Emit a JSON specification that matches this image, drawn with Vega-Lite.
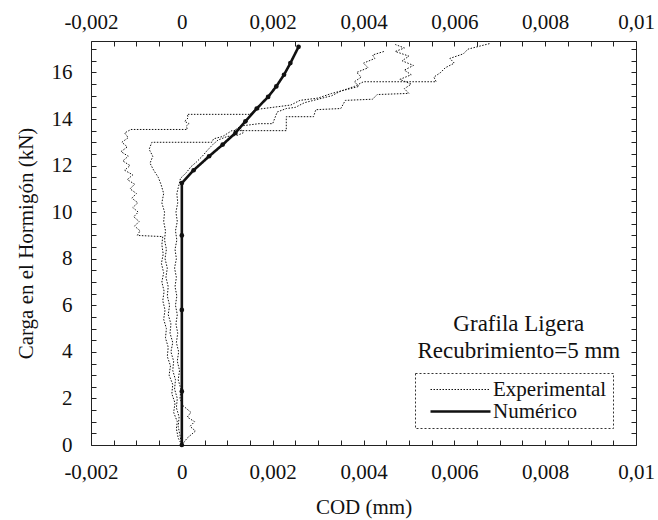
{
  "$schema": "https://vega.github.io/schema/vega-lite/v6.json",
  "width": 545,
  "height": 404,
  "autosize": "none",
  "padding": {"left": 91, "top": 41, "right": 22, "bottom": 75},
  "background": "white",
  "config": {
    "view": {"stroke": "#222", "strokeWidth": 1},
    "font": "Liberation Serif",
    "axis": {
      "domain": false, "grid": false,
      "labelFont": "Liberation Serif", "labelFontSize": 21, "labelColor": "#111",
      "titleFont": "Liberation Serif", "titleFontSize": 21, "titleFontWeight": "normal", "titleColor": "#111",
      "ticks": true, "tickColor": "#222", "tickWidth": 1, "tickSize": -5,
      "labelOverlap": false, "labelFlush": false
    },
    "legend": {
      "strokeColor": "#333", "padding": 6,
      "labelFont": "Liberation Serif", "labelFontSize": 21, "labelColor": "#111",
      "symbolType": "M-3,0H3", "symbolSize": 400, "symbolStrokeColor": "#111", "rowPadding": 0,
      "symbolOffset": 28, "labelOffset": 21
    }
  },
  "datasets": {
    "curves": [
      {"run": "A", "series": "Experimental", "x": 0, "y": 0},
      {"run": "A", "series": "Experimental", "x": -0.00008, "y": 0.3},
      {"run": "A", "series": "Experimental", "x": -0.00012, "y": 0.7},
      {"run": "A", "series": "Experimental", "x": -0.0001, "y": 1.0},
      {"run": "A", "series": "Experimental", "x": -0.00018, "y": 1.4},
      {"run": "A", "series": "Experimental", "x": -0.00015, "y": 1.8},
      {"run": "A", "series": "Experimental", "x": -0.00022, "y": 2.2},
      {"run": "A", "series": "Experimental", "x": -0.0002, "y": 2.6},
      {"run": "A", "series": "Experimental", "x": -0.00028, "y": 3.0},
      {"run": "A", "series": "Experimental", "x": -0.00025, "y": 3.4},
      {"run": "A", "series": "Experimental", "x": -0.00032, "y": 3.8},
      {"run": "A", "series": "Experimental", "x": -0.0003, "y": 4.2},
      {"run": "A", "series": "Experimental", "x": -0.00036, "y": 4.6},
      {"run": "A", "series": "Experimental", "x": -0.00034, "y": 5.0},
      {"run": "A", "series": "Experimental", "x": -0.0004, "y": 5.4},
      {"run": "A", "series": "Experimental", "x": -0.00037, "y": 5.8},
      {"run": "A", "series": "Experimental", "x": -0.00042, "y": 6.2},
      {"run": "A", "series": "Experimental", "x": -0.00039, "y": 6.6},
      {"run": "A", "series": "Experimental", "x": -0.00044, "y": 7.0},
      {"run": "A", "series": "Experimental", "x": -0.0004, "y": 7.4},
      {"run": "A", "series": "Experimental", "x": -0.00045, "y": 7.8},
      {"run": "A", "series": "Experimental", "x": -0.00041, "y": 8.2},
      {"run": "A", "series": "Experimental", "x": -0.00044, "y": 8.6},
      {"run": "A", "series": "Experimental", "x": -0.00042, "y": 8.95},
      {"run": "A", "series": "Experimental", "x": -0.00098, "y": 9.0},
      {"run": "A", "series": "Experimental", "x": -0.00092, "y": 9.2},
      {"run": "A", "series": "Experimental", "x": -0.00104, "y": 9.4},
      {"run": "A", "series": "Experimental", "x": -0.00094, "y": 9.6},
      {"run": "A", "series": "Experimental", "x": -0.00106, "y": 9.8},
      {"run": "A", "series": "Experimental", "x": -0.00096, "y": 10.0},
      {"run": "A", "series": "Experimental", "x": -0.00108, "y": 10.2},
      {"run": "A", "series": "Experimental", "x": -0.00097, "y": 10.4},
      {"run": "A", "series": "Experimental", "x": -0.0011, "y": 10.6},
      {"run": "A", "series": "Experimental", "x": -0.001, "y": 10.8},
      {"run": "A", "series": "Experimental", "x": -0.00114, "y": 11.0},
      {"run": "A", "series": "Experimental", "x": -0.00104, "y": 11.2},
      {"run": "A", "series": "Experimental", "x": -0.0012, "y": 11.4},
      {"run": "A", "series": "Experimental", "x": -0.00108, "y": 11.6},
      {"run": "A", "series": "Experimental", "x": -0.00126, "y": 11.8},
      {"run": "A", "series": "Experimental", "x": -0.00114, "y": 12.0},
      {"run": "A", "series": "Experimental", "x": -0.0013, "y": 12.2},
      {"run": "A", "series": "Experimental", "x": -0.00118, "y": 12.4},
      {"run": "A", "series": "Experimental", "x": -0.00134, "y": 12.6},
      {"run": "A", "series": "Experimental", "x": -0.0012, "y": 12.8},
      {"run": "A", "series": "Experimental", "x": -0.00132, "y": 13.0},
      {"run": "A", "series": "Experimental", "x": -0.00118, "y": 13.2},
      {"run": "A", "series": "Experimental", "x": -0.00126, "y": 13.4},
      {"run": "A", "series": "Experimental", "x": -0.00112, "y": 13.55},
      {"run": "A", "series": "Experimental", "x": 0.00012, "y": 13.55},
      {"run": "A", "series": "Experimental", "x": 0.0001, "y": 13.7},
      {"run": "A", "series": "Experimental", "x": 0.00016, "y": 13.8},
      {"run": "A", "series": "Experimental", "x": 0.00006, "y": 13.9},
      {"run": "A", "series": "Experimental", "x": 0.00014, "y": 14.05},
      {"run": "A", "series": "Experimental", "x": 0.00012, "y": 14.2},
      {"run": "A", "series": "Experimental", "x": 0.0015, "y": 14.2},
      {"run": "A", "series": "Experimental", "x": 0.0016, "y": 14.4},
      {"run": "A", "series": "Experimental", "x": 0.002, "y": 14.5},
      {"run": "A", "series": "Experimental", "x": 0.0024, "y": 14.6},
      {"run": "A", "series": "Experimental", "x": 0.0026, "y": 14.8},
      {"run": "A", "series": "Experimental", "x": 0.003, "y": 14.9},
      {"run": "A", "series": "Experimental", "x": 0.0033, "y": 15.1},
      {"run": "A", "series": "Experimental", "x": 0.0036, "y": 15.25},
      {"run": "A", "series": "Experimental", "x": 0.0039, "y": 15.4},
      {"run": "A", "series": "Experimental", "x": 0.0038, "y": 15.6},
      {"run": "A", "series": "Experimental", "x": 0.00395, "y": 15.8},
      {"run": "A", "series": "Experimental", "x": 0.00385, "y": 16.0},
      {"run": "A", "series": "Experimental", "x": 0.0041, "y": 16.2},
      {"run": "A", "series": "Experimental", "x": 0.004, "y": 16.4},
      {"run": "A", "series": "Experimental", "x": 0.00425, "y": 16.6},
      {"run": "A", "series": "Experimental", "x": 0.0042, "y": 16.75},
      {"run": "A", "series": "Experimental", "x": 0.00445, "y": 16.9},

      {"run": "B", "series": "Experimental", "x": 0, "y": 0},
      {"run": "B", "series": "Experimental", "x": -0.00004, "y": 0.4},
      {"run": "B", "series": "Experimental", "x": -0.00008, "y": 0.8},
      {"run": "B", "series": "Experimental", "x": -0.00006, "y": 1.2},
      {"run": "B", "series": "Experimental", "x": -0.00012, "y": 1.6},
      {"run": "B", "series": "Experimental", "x": -0.0001, "y": 2.0},
      {"run": "B", "series": "Experimental", "x": -0.00016, "y": 2.4},
      {"run": "B", "series": "Experimental", "x": -0.00014, "y": 2.8},
      {"run": "B", "series": "Experimental", "x": -0.0002, "y": 3.2},
      {"run": "B", "series": "Experimental", "x": -0.00018, "y": 3.6},
      {"run": "B", "series": "Experimental", "x": -0.00024, "y": 4.0},
      {"run": "B", "series": "Experimental", "x": -0.0002, "y": 4.4},
      {"run": "B", "series": "Experimental", "x": -0.00026, "y": 4.8},
      {"run": "B", "series": "Experimental", "x": -0.00024, "y": 5.2},
      {"run": "B", "series": "Experimental", "x": -0.0003, "y": 5.6},
      {"run": "B", "series": "Experimental", "x": -0.00027, "y": 6.0},
      {"run": "B", "series": "Experimental", "x": -0.00032, "y": 6.4},
      {"run": "B", "series": "Experimental", "x": -0.0003, "y": 6.8},
      {"run": "B", "series": "Experimental", "x": -0.00035, "y": 7.2},
      {"run": "B", "series": "Experimental", "x": -0.00032, "y": 7.6},
      {"run": "B", "series": "Experimental", "x": -0.00037, "y": 8.0},
      {"run": "B", "series": "Experimental", "x": -0.00034, "y": 8.4},
      {"run": "B", "series": "Experimental", "x": -0.00038, "y": 8.8},
      {"run": "B", "series": "Experimental", "x": -0.00036, "y": 9.2},
      {"run": "B", "series": "Experimental", "x": -0.0004, "y": 9.6},
      {"run": "B", "series": "Experimental", "x": -0.00038, "y": 10.0},
      {"run": "B", "series": "Experimental", "x": -0.00044, "y": 10.4},
      {"run": "B", "series": "Experimental", "x": -0.0004, "y": 10.8},
      {"run": "B", "series": "Experimental", "x": -0.00046, "y": 11.2},
      {"run": "B", "series": "Experimental", "x": -0.00052, "y": 11.5},
      {"run": "B", "series": "Experimental", "x": -0.00062, "y": 11.8},
      {"run": "B", "series": "Experimental", "x": -0.0007, "y": 12.1},
      {"run": "B", "series": "Experimental", "x": -0.00064, "y": 12.4},
      {"run": "B", "series": "Experimental", "x": -0.00072, "y": 12.7},
      {"run": "B", "series": "Experimental", "x": -0.00066, "y": 13.0},
      {"run": "B", "series": "Experimental", "x": 0.00066, "y": 13.0},
      {"run": "B", "series": "Experimental", "x": 0.0007, "y": 13.15},
      {"run": "B", "series": "Experimental", "x": 0.0009, "y": 13.25},
      {"run": "B", "series": "Experimental", "x": 0.0011, "y": 13.5},
      {"run": "B", "series": "Experimental", "x": 0.0023, "y": 13.5},
      {"run": "B", "series": "Experimental", "x": 0.0023, "y": 14.1},
      {"run": "B", "series": "Experimental", "x": 0.0029, "y": 14.1},
      {"run": "B", "series": "Experimental", "x": 0.00295, "y": 14.4},
      {"run": "B", "series": "Experimental", "x": 0.0035, "y": 14.45},
      {"run": "B", "series": "Experimental", "x": 0.0036, "y": 14.8},
      {"run": "B", "series": "Experimental", "x": 0.0042, "y": 14.85},
      {"run": "B", "series": "Experimental", "x": 0.0043, "y": 15.05},
      {"run": "B", "series": "Experimental", "x": 0.005, "y": 15.1},
      {"run": "B", "series": "Experimental", "x": 0.0049, "y": 15.3},
      {"run": "B", "series": "Experimental", "x": 0.00505, "y": 15.5},
      {"run": "B", "series": "Experimental", "x": 0.0048, "y": 15.7},
      {"run": "B", "series": "Experimental", "x": 0.00505, "y": 15.9},
      {"run": "B", "series": "Experimental", "x": 0.0049, "y": 16.1},
      {"run": "B", "series": "Experimental", "x": 0.0051, "y": 16.3},
      {"run": "B", "series": "Experimental", "x": 0.00485, "y": 16.5},
      {"run": "B", "series": "Experimental", "x": 0.005, "y": 16.7},
      {"run": "B", "series": "Experimental", "x": 0.0047, "y": 16.9},
      {"run": "B", "series": "Experimental", "x": 0.0049, "y": 17.05},
      {"run": "B", "series": "Experimental", "x": 0.0047, "y": 17.2},

      {"run": "C", "series": "Experimental", "x": 0, "y": 0},
      {"run": "C", "series": "Experimental", "x": 0.00012, "y": 0.3},
      {"run": "C", "series": "Experimental", "x": 0.0003, "y": 0.6},
      {"run": "C", "series": "Experimental", "x": 0.00018, "y": 0.8},
      {"run": "C", "series": "Experimental", "x": 0.00028, "y": 1.0},
      {"run": "C", "series": "Experimental", "x": 0.00012, "y": 1.2},
      {"run": "C", "series": "Experimental", "x": 0.0002, "y": 1.4},
      {"run": "C", "series": "Experimental", "x": 0.00002, "y": 1.7},
      {"run": "C", "series": "Experimental", "x": -0.00004, "y": 2.0},
      {"run": "C", "series": "Experimental", "x": -0.00002, "y": 2.4},
      {"run": "C", "series": "Experimental", "x": -0.00008, "y": 2.8},
      {"run": "C", "series": "Experimental", "x": -0.00005, "y": 3.2},
      {"run": "C", "series": "Experimental", "x": -0.0001, "y": 3.6},
      {"run": "C", "series": "Experimental", "x": -0.00007, "y": 4.0},
      {"run": "C", "series": "Experimental", "x": -0.00012, "y": 4.4},
      {"run": "C", "series": "Experimental", "x": -0.00009, "y": 4.8},
      {"run": "C", "series": "Experimental", "x": -0.00013, "y": 5.2},
      {"run": "C", "series": "Experimental", "x": -0.0001, "y": 5.6},
      {"run": "C", "series": "Experimental", "x": -0.00014, "y": 6.0},
      {"run": "C", "series": "Experimental", "x": -0.00011, "y": 6.4},
      {"run": "C", "series": "Experimental", "x": -0.00015, "y": 6.8},
      {"run": "C", "series": "Experimental", "x": -0.00012, "y": 7.2},
      {"run": "C", "series": "Experimental", "x": -0.00016, "y": 7.6},
      {"run": "C", "series": "Experimental", "x": -0.00012, "y": 8.0},
      {"run": "C", "series": "Experimental", "x": -0.00015, "y": 8.4},
      {"run": "C", "series": "Experimental", "x": -0.00011, "y": 8.8},
      {"run": "C", "series": "Experimental", "x": -0.00014, "y": 9.2},
      {"run": "C", "series": "Experimental", "x": -0.0001, "y": 9.6},
      {"run": "C", "series": "Experimental", "x": -0.00013, "y": 10.0},
      {"run": "C", "series": "Experimental", "x": -0.00009, "y": 10.4},
      {"run": "C", "series": "Experimental", "x": -0.00011, "y": 10.8},
      {"run": "C", "series": "Experimental", "x": -0.00006, "y": 11.2},
      {"run": "C", "series": "Experimental", "x": -0.00003, "y": 11.45},
      {"run": "C", "series": "Experimental", "x": 0.0001, "y": 11.7},
      {"run": "C", "series": "Experimental", "x": 0.0002, "y": 11.95},
      {"run": "C", "series": "Experimental", "x": 0.00032, "y": 12.15},
      {"run": "C", "series": "Experimental", "x": 0.00045, "y": 12.4},
      {"run": "C", "series": "Experimental", "x": 0.00056, "y": 12.65},
      {"run": "C", "series": "Experimental", "x": 0.00068, "y": 12.9},
      {"run": "C", "series": "Experimental", "x": 0.0008, "y": 13.1},
      {"run": "C", "series": "Experimental", "x": 0.001, "y": 13.25},
      {"run": "C", "series": "Experimental", "x": 0.00122, "y": 13.3},
      {"run": "C", "series": "Experimental", "x": 0.00135, "y": 13.4},
      {"run": "C", "series": "Experimental", "x": 0.0013, "y": 13.6},
      {"run": "C", "series": "Experimental", "x": 0.00115, "y": 13.5},
      {"run": "C", "series": "Experimental", "x": 0.0013, "y": 13.7},
      {"run": "C", "series": "Experimental", "x": 0.0017, "y": 13.8},
      {"run": "C", "series": "Experimental", "x": 0.002, "y": 13.8},
      {"run": "C", "series": "Experimental", "x": 0.00205, "y": 14.05},
      {"run": "C", "series": "Experimental", "x": 0.0021, "y": 14.3},
      {"run": "C", "series": "Experimental", "x": 0.0023, "y": 14.45},
      {"run": "C", "series": "Experimental", "x": 0.0025, "y": 14.5},
      {"run": "C", "series": "Experimental", "x": 0.0027, "y": 14.7},
      {"run": "C", "series": "Experimental", "x": 0.003, "y": 14.85},
      {"run": "C", "series": "Experimental", "x": 0.0033, "y": 15.0},
      {"run": "C", "series": "Experimental", "x": 0.0035, "y": 15.2},
      {"run": "C", "series": "Experimental", "x": 0.0038, "y": 15.4},
      {"run": "C", "series": "Experimental", "x": 0.004, "y": 15.6},
      {"run": "C", "series": "Experimental", "x": 0.0056, "y": 15.6},
      {"run": "C", "series": "Experimental", "x": 0.00555, "y": 15.8},
      {"run": "C", "series": "Experimental", "x": 0.0057, "y": 16.0},
      {"run": "C", "series": "Experimental", "x": 0.0058, "y": 16.2},
      {"run": "C", "series": "Experimental", "x": 0.006, "y": 16.4},
      {"run": "C", "series": "Experimental", "x": 0.0059, "y": 16.6},
      {"run": "C", "series": "Experimental", "x": 0.0062, "y": 16.8},
      {"run": "C", "series": "Experimental", "x": 0.0063, "y": 17.0},
      {"run": "C", "series": "Experimental", "x": 0.0066, "y": 17.15},
      {"run": "C", "series": "Experimental", "x": 0.0068, "y": 17.25},

      {"run": "N", "series": "Numérico", "x": 0, "y": 0},
      {"run": "N", "series": "Numérico", "x": 0, "y": 2.3},
      {"run": "N", "series": "Numérico", "x": 0, "y": 5.8},
      {"run": "N", "series": "Numérico", "x": 0, "y": 9.0},
      {"run": "N", "series": "Numérico", "x": 0, "y": 11.25},
      {"run": "N", "series": "Numérico", "x": 0.00026, "y": 11.8},
      {"run": "N", "series": "Numérico", "x": 0.0006, "y": 12.4},
      {"run": "N", "series": "Numérico", "x": 0.0009, "y": 12.9},
      {"run": "N", "series": "Numérico", "x": 0.00118, "y": 13.4},
      {"run": "N", "series": "Numérico", "x": 0.0014, "y": 13.9},
      {"run": "N", "series": "Numérico", "x": 0.00165, "y": 14.45},
      {"run": "N", "series": "Numérico", "x": 0.0019, "y": 14.95},
      {"run": "N", "series": "Numérico", "x": 0.00208, "y": 15.4},
      {"run": "N", "series": "Numérico", "x": 0.00225, "y": 15.9},
      {"run": "N", "series": "Numérico", "x": 0.00239, "y": 16.4},
      {"run": "N", "series": "Numérico", "x": 0.00257, "y": 17.1}
    ],
    "notes": [
      {"x": 0.00742, "y": 5.2, "text": "Grafila Ligera"},
      {"x": 0.00742, "y": 4.05, "text": "Recubrimiento=5 mm"}
    ]
  },
  "resolve": {"axis": {"x": "independent", "y": "independent"}},
  "layer": [
    {
      "data": {"name": "curves"},
      "mark": {"type": "line", "color": "#111"},
      "encoding": {
        "x": {
          "field": "x", "type": "quantitative",
          "scale": {"domain": [-0.002, 0.01], "nice": false, "zero": false},
          "axis": {
            "orient": "bottom", "title": "COD (mm)", "titlePadding": 14,
            "values": [-0.002,-0.0015,-0.001,-0.0005,0,0.0005,0.001,0.0015,0.002,0.0025,0.003,0.0035,0.004,0.0045,0.005,0.0055,0.006,0.0065,0.007,0.0075,0.008,0.0085,0.009,0.0095,0.01],
            "labelExpr": "abs(datum.value/0.002 - round(datum.value/0.002)) < 0.001 ? replace(replace(format(datum.value, '~g'), '.', ','), '−', '-') : ''",
            "labelPadding": 21
          }
        },
        "y": {
          "field": "y", "type": "quantitative",
          "scale": {"domain": [0, 17.35], "nice": false, "zero": false},
          "axis": {
            "orient": "left", "title": "Carga en el Hormigón (kN)", "titlePadding": 15,
            "values": [0,0.5,1,1.5,2,2.5,3,3.5,4,4.5,5,5.5,6,6.5,7,7.5,8,8.5,9,9.5,10,10.5,11,11.5,12,12.5,13,13.5,14,14.5,15,15.5,16,16.5,17],
            "labelExpr": "datum.value % 2 == 0 ? format(datum.value, 'd') : ''",
            "labelPadding": 24
          }
        },
        "detail": {"field": "run", "type": "nominal"},
        "order": {"value": null},
        "strokeDash": {
          "field": "series", "type": "nominal",
          "scale": {"domain": ["Experimental", "Numérico"], "range": [[1.5, 1.5], [1, 0]]},
          "legend": {"title": null, "orient": "none", "legendX": 324, "legendY": 332,
            "encode": {"legend": {"update": {"strokeDash": {"value": [2, 2]}}}}}
        },
        "strokeWidth": {
          "field": "series", "type": "nominal",
          "scale": {"domain": ["Experimental", "Numérico"], "range": [1, 2.6]},
          "legend": {"title": null, "orient": "none", "legendX": 324, "legendY": 332,
            "encode": {"legend": {"update": {"strokeDash": {"value": [2, 2]}}}}}
        }
      }
    },
    {
      "data": {"name": "curves"},
      "transform": [{"filter": "datum.series == 'Numérico'"}],
      "mark": {"type": "point", "filled": true, "color": "#111", "size": 22, "opacity": 1},
      "encoding": {
        "x": {
          "field": "x", "type": "quantitative",
          "axis": {
            "orient": "top", "title": null,
            "values": [-0.002,-0.0015,-0.001,-0.0005,0,0.0005,0.001,0.0015,0.002,0.0025,0.003,0.0035,0.004,0.0045,0.005,0.0055,0.006,0.0065,0.007,0.0075,0.008,0.0085,0.009,0.0095,0.01],
            "labelExpr": "abs(datum.value/0.002 - round(datum.value/0.002)) < 0.001 ? replace(replace(format(datum.value, '~g'), '.', ','), '−', '-') : ''",
            "labelPadding": 14
          }
        },
        "y": {
          "field": "y", "type": "quantitative",
          "axis": {
            "orient": "right", "title": null, "labels": false,
            "values": [0,0.5,1,1.5,2,2.5,3,3.5,4,4.5,5,5.5,6,6.5,7,7.5,8,8.5,9,9.5,10,10.5,11,11.5,12,12.5,13,13.5,14,14.5,15,15.5,16,16.5,17]
          }
        }
      }
    },
    {
      "data": {"name": "notes"},
      "mark": {"type": "text", "font": "Liberation Serif", "fontSize": 23, "color": "#111", "align": "center", "baseline": "middle"},
      "encoding": {
        "x": {"field": "x", "type": "quantitative", "axis": null},
        "y": {"field": "y", "type": "quantitative", "axis": null},
        "text": {"field": "text"}
      }
    }
  ]
}
